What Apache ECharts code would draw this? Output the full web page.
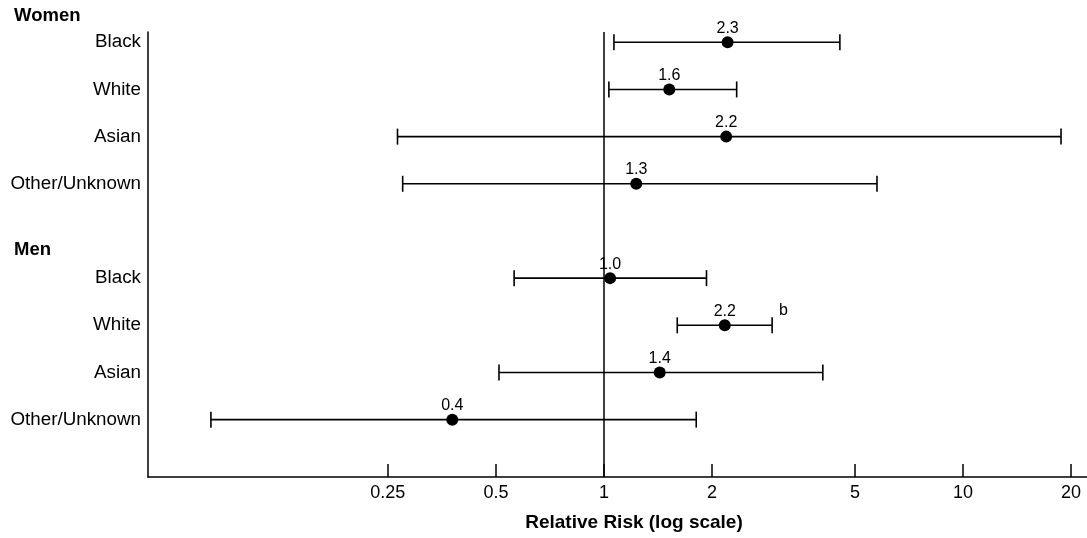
<!DOCTYPE html>
<html>
<head>
<meta charset="utf-8">
<script src="https://cdn.jsdelivr.net/npm/echarts/dist/echarts.min.js"></script>
<style>
html,body{margin:0;padding:0;background:#fff;}
#chart{width:1087px;height:538px;}
</style>
</head>
<body>
<div id="chart"></div>
<script>
// ---- data ----
const groupNames = ['Women', 'Men'];
const groups = ['Women', 'Women', 'Women', 'Women', 'Men', 'Men', 'Men', 'Men'];
const rowLabels = ['Black', 'White', 'Asian', 'Other/Unknown', 'Black', 'White', 'Asian', 'Other/Unknown'];
const estimates = [2.21, 1.52, 2.19, 1.23, 1.04, 2.17, 1.43, 0.378];
const lower = [1.066, 1.032, 0.266, 0.275, 0.562, 1.60, 0.51, 0.0804];
const upper = [4.54, 2.342, 18.75, 5.76, 1.93, 2.94, 4.07, 1.807];
const valueLabels = ['2.3', '1.6', '2.2', '1.3', '1.0', '2.2', '1.4', '0.4'];
const notes = ['', '', '', '', '', 'b', '', ''];
const xTicks = [0.25, 0.5, 1, 2, 5, 10, 20];
const axisTitle = 'Relative Risk (log scale)';

// row positions: one blank slot between groups
const rowPos = groups.map((g, i) => i + groupNames.indexOf(g));

const FONT = '"Liberation Sans", Arial, Helvetica, sans-serif';
const chart = echarts.init(document.getElementById('chart'), null, {renderer: 'canvas'});

const ciData = rowPos.map((p, i) => [lower[i], upper[i], p, i]);
const ptData = rowPos.map((p, i) => [estimates[i], p, i]);

chart.setOption({
  animation: false,
  backgroundColor: '#fff',
  grid: {left: 148, right: 0, top: 32, bottom: 61, containLabel: false, outerBoundsMode: 'none'},
  xAxis: {
    type: 'log',
    logBase: 10,
    min: 0.0537,
    max: 22.15,
    axisLine: {show: true, onZero: false, lineStyle: {color: '#000', width: 1.5}},
    axisTick: {show: true, inside: true, length: 13, lineStyle: {color: '#000', width: 1.5}, customValues: xTicks},
    axisLabel: {show: true, customValues: xTicks, color: '#000', fontSize: 18, fontFamily: FONT, margin: 7,
      formatter: v => String(+v.toPrecision(6))},
    minorTick: {show: false},
    splitLine: {show: false},
    name: axisTitle,
    nameLocation: 'middle',
    nameGap: 36.5,
    nameTextStyle: {color: '#000', fontSize: 19, fontWeight: 'bold', fontFamily: FONT, padding: [0, 0, 0, 33]}
  },
  yAxis: {
    type: 'value',
    inverse: true,
    min: -0.218,
    max: 9.216,
    axisLine: {show: true, onZero: false, lineStyle: {color: '#000', width: 1.5}},
    axisTick: {show: false},
    splitLine: {show: false},
    axisLabel: {
      show: true, customValues: rowPos, color: '#000', fontSize: 18.8, fontFamily: FONT, margin: 7,
      formatter: v => { const i = rowPos.indexOf(Math.round(v)); return i >= 0 ? rowLabels[i] : ''; }
    }
  },
  graphic: [
    {type: 'text', left: 14, top: 6, style: {text: groupNames[0], fontSize: 18.5, fontWeight: 'bold', fontFamily: FONT, fill: '#000'}},
    {type: 'text', left: 14, top: 240, style: {text: groupNames[1], fontSize: 18.5, fontWeight: 'bold', fontFamily: FONT, fill: '#000'}}
  ],
  series: [
    {
      type: 'custom',
      data: ciData,
      encode: {x: [0, 1], y: 2},
      clip: false,
      renderItem: function (params, api) {
        const p1 = api.coord([api.value(0), api.value(2)]);
        const p2 = api.coord([api.value(1), api.value(2)]);
        const idx = api.value(3);
        const st = {stroke: '#000', lineWidth: 1.6};
        const children = [
          {type: 'line', shape: {x1: p1[0], y1: p1[1], x2: p2[0], y2: p2[1]}, style: st},
          {type: 'line', shape: {x1: p1[0], y1: p1[1] - 8, x2: p1[0], y2: p1[1] + 8}, style: st},
          {type: 'line', shape: {x1: p2[0], y1: p2[1] - 8, x2: p2[0], y2: p2[1] + 8}, style: st}
        ];
        if (notes[idx]) {
          children.push({type: 'text', x: p2[0] + 7, y: p2[1] - 15,
            style: {text: notes[idx], fontSize: 16, fontFamily: FONT, fill: '#000', textVerticalAlign: 'middle'}});
        }
        return {type: 'group', children: children};
      },
      z: 2
    },
    {
      type: 'scatter',
      data: ptData,
      encode: {x: 0, y: 1},
      symbol: 'circle',
      symbolSize: 12,
      itemStyle: {color: '#000', opacity: 1},
      label: {
        show: true, position: 'top', distance: 0, color: '#000', fontSize: 16, fontFamily: FONT,
        formatter: p => valueLabels[p.data[2]]
      },
      markLine: {
        silent: true,
        symbol: 'none',
        label: {show: false},
        lineStyle: {color: '#000', width: 1.5, type: 'solid'},
        data: [{xAxis: 1}]
      },
      z: 3
    }
  ]
});
</script>
</body>
</html>
